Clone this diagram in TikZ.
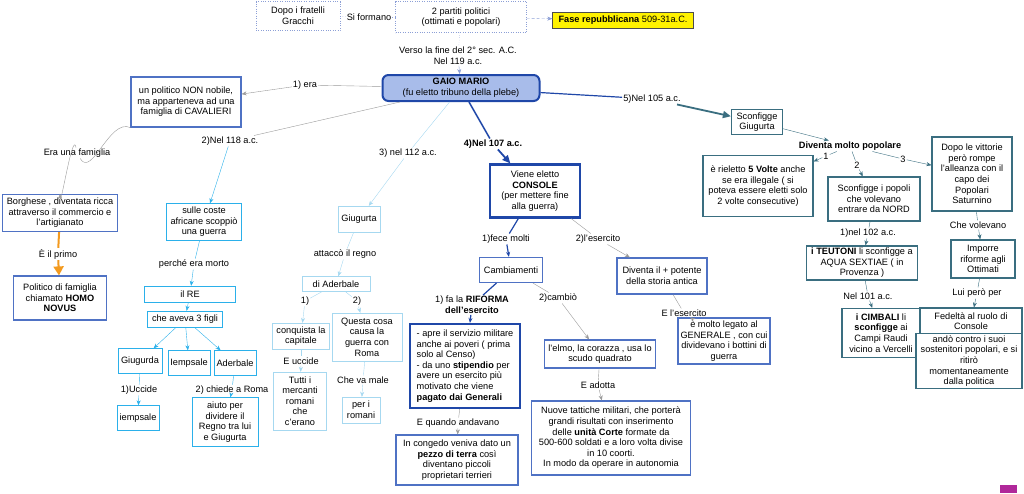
\documentclass[tikz,border=0pt]{standalone}
\usepackage{fontspec}
\setmainfont{Liberation Sans}
\usetikzlibrary{arrows.meta}
\definecolor{dotblue}{HTML}{8C9FD6}
\definecolor{gaiofill}{HTML}{A8BCEA}
\definecolor{darkblue}{HTML}{1F47A8}
\definecolor{midblue}{HTML}{4F72C4}
\definecolor{cyanb}{HTML}{2BB0EA}
\definecolor{paleb}{HTML}{A6D8F0}
\definecolor{tealb}{HTML}{3A6E80}
\definecolor{edgegrey}{HTML}{9A9A9A}
\definecolor{orangeb}{HTML}{F39A1E}
\definecolor{iconpink}{HTML}{B0289A}
\tikzset{
  box/.style={draw, fill=white, align=center, inner sep=2pt, font=\fontsize{9.2}{10.6}\selectfont},
  lbl/.style={align=center, inner sep=1pt, font=\fontsize{9.2}{10.6}\selectfont},
  tip/.style={-{Stealth[length=5pt,width=4pt]}},
  bigtip/.style={-{Triangle[length=8pt,width=7pt]}},
}
\begin{document}
\begin{tikzpicture}[x=1pt,y=-1pt]
        \useasboundingbox (0,0) rectangle (1024,493);
        \node[box, dotted, draw=dotblue, minimum width=84, minimum height=29] (gracchi) at (298,16) {Dopo i fratelli\\Gracchi};
        \node[box, dotted, draw=dotblue, minimum width=131, minimum height=31] (partiti) at (461,17) {2 partiti politici\\(ottimati e popolari)};
        \node[box, fill=yellow, draw=black!70, minimum width=141, minimum height=16, inner sep=1pt] (fase) at (623,20) {\textbf{Fase repubblicana} 509-31a.C.};
        \node[lbl] (siform) at (369,17) {Si formano};
        \node[lbl] (verso) at (458,56) {Verso la fine del 2° sec. A.C.\\Nel 119 a.c.};
        \node[box, rounded corners=6pt, line width=2pt, draw=darkblue, fill=gaiofill, minimum width=157, minimum height=26] (gaio) at (461,88) {\textbf{GAIO MARIO}\\(fu eletto tribuno della plebe)};
        \draw[dotblue, dotted] (gracchi) -- (siform);
        \draw[dotblue, dotted] (siform) -- (partiti);
        \draw[dotblue, densely dashed, tip] (partiti) -- (fase);
        \draw[dotblue, dotted] (partiti) -- (verso);
        \draw[dotblue, tip] (verso) -- (gaio);

        \node[box, draw=midblue, line width=1.2pt, minimum width=110, minimum height=50] (politico) at (186,102) {un politico NON nobile,\\ma apparteneva ad una\\famiglia di CAVALIERI};
        \node[lbl] (era) at (305,85) {1) era};
        \node[lbl] (famiglia) at (77,153) {Era una famiglia};
        \node[box, draw=midblue, line width=1.2pt, minimum width=115, minimum height=37] (borghese) at (60,213) {Borghese , diventata ricca\\attraverso il commercio e\\l'artigianato};
        \node[lbl] (primo) at (58,254) {È il primo};
        \node[box, draw=midblue, line width=1.2pt, minimum width=93, minimum height=44] (homo) at (60,298) {Politico di famiglia\\chiamato \textbf{HOMO}\\\textbf{NOVUS}};
        \draw[edgegrey] (gaio) -- (era);
        \draw[edgegrey, tip] (era) -- (politico);
        \draw[edgegrey] (politico.south west) to[out=155, in=300] (famiglia);
        \draw[edgegrey, tip] (famiglia) to[out=100, in=270] (borghese.north);
        \draw[orangeb, line width=2pt] (borghese) -- (primo);
        \draw[orangeb, line width=2pt, -{Triangle[length=9pt,width=10pt]}] (primo) -- (homo);

        \node[lbl] (n118) at (230,141) {2)Nel 118 a.c.};
        \node[box, draw=cyanb, minimum width=75, minimum height=37] (sulle) at (204,222) {sulle coste\\africane scoppiò\\una guerra};
        \node[lbl] (perche) at (194,264) {perché era morto};
        \node[box, draw=cyanb, minimum width=91, minimum height=16, inner sep=1pt] (re) at (190,294) {il RE};
        \node[box, draw=cyanb, minimum width=75, minimum height=16, inner sep=1pt] (figli) at (185,319) {che aveva 3 figli};
        \node[box, draw=cyanb, minimum width=44, minimum height=25] (giugurda) at (140,361) {Giugurda};
        \node[box, draw=cyanb, minimum width=42, minimum height=25] (iempsalea) at (189,363) {Iempsale};
        \node[box, draw=cyanb, minimum width=42, minimum height=25] (aderbale) at (235,363) {Aderbale};
        \node[lbl] (uccide) at (139,390) {1)Uccide};
        \node[box, draw=cyanb, minimum width=42, minimum height=25] (iempsaleb) at (138,418) {iempsale};
        \node[lbl] (chiede) at (232,390) {2) chiede a Roma};
        \node[box, draw=cyanb, minimum width=66, minimum height=49] (aiuto) at (225,422) {aiuto per\\dividere il\\Regno tra lui\\e Giugurta};
        \draw[edgegrey] (gaio) -- (n118);
        \draw[cyanb, tip] (n118) -- (sulle);
        \draw[cyanb] (sulle) -- (perche);
        \draw[cyanb, tip] (perche) -- (re);
        \draw[cyanb, tip] (re) -- (figli);
        \draw[cyanb, tip] (figli) -- (giugurda);
        \draw[cyanb, tip] (figli) -- (iempsalea);
        \draw[cyanb, tip] (figli) -- (aderbale);
        \draw[cyanb] (giugurda) -- (uccide);
        \draw[cyanb, tip] (uccide) -- (iempsaleb);
        \draw[cyanb] (aderbale) -- (chiede);
        \draw[cyanb, tip] (chiede) -- (aiuto);

        \node[lbl] (n112) at (408,153) {3) nel 112 a.c.};
        \node[box, draw=paleb, minimum width=42, minimum height=26] (giugurta) at (359,219) {Giugurta};
        \node[lbl] (attacco) at (345,254) {attaccò il regno};
        \node[box, draw=paleb, minimum width=68, minimum height=15, inner sep=1pt] (diaderbale) at (336,284) {di Aderbale};
        \node[lbl] (uno) at (305,301) {1)};
        \node[lbl] (due) at (357,301) {2)};
        \node[box, draw=paleb, minimum width=57, minimum height=26] (conquista) at (301,336) {conquista la\\capitale};
        \node[box, draw=paleb, minimum width=70, minimum height=48] (questa) at (367,337) {Questa cosa\\causa la\\guerra con\\Roma};
        \node[lbl] (euccide) at (301,361) {E uccide};
        \node[box, draw=paleb, minimum width=53, minimum height=58] (tutti) at (300,401) {Tutti i\\mercanti\\romani\\che\\c'erano};
        \node[lbl] (vamale) at (363,380) {Che va male};
        \node[box, draw=paleb, minimum width=38, minimum height=26] (perromani) at (361,410) {per i\\romani};
        \draw[paleb] (gaio) -- (n112);
        \draw[paleb, tip] (n112) -- (giugurta);
        \draw[paleb] (giugurta) -- (attacco);
        \draw[paleb, tip] (attacco) -- (diaderbale);
        \draw[paleb] (diaderbale) -- (uno);
        \draw[paleb, tip] (uno) -- (conquista);
        \draw[paleb] (diaderbale) -- (due);
        \draw[paleb, tip] (due) -- (questa);
        \draw[paleb] (conquista) -- (euccide);
        \draw[paleb, tip] (euccide) -- (tutti);
        \draw[paleb] (questa) -- (vamale);
        \draw[paleb, tip] (vamale) -- (perromani);

        \node[lbl, font=\fontsize{9.2}{10.6}\selectfont\bfseries] (n107) at (493,144) {4)Nel 107 a.c.};
        \node[box, draw=darkblue, line width=2.2pt, minimum width=90, minimum height=53] (console) at (535,191) {Viene eletto\\\textbf{CONSOLE}\\(per mettere fine\\alla guerra)};
        \node[lbl] (fece) at (506,239) {1)fece molti};
        \node[box, draw=midblue, line width=1.2pt, minimum width=63, minimum height=25] (cambiam) at (511,270) {Cambiamenti};
        \node[lbl] (riflbl) at (472,305) {1) fa la \textbf{RIFORMA}\\\textbf{dell'esercito}};
        \node[box, draw=darkblue, line width=2.2pt, minimum width=110, minimum height=84, align=left] (riforma) at (465,366) {- apre il servizio militare\\anche ai poveri ( prima\\solo al Censo)\\- da uno \textbf{stipendio} per\\avere un esercito più\\motivato che viene\\\textbf{pagato dai Generali}};
        \node[lbl] (quando) at (458,423) {E quando andavano};
        \node[box, draw=midblue, line width=1.2pt, minimum width=122, minimum height=50] (congedo) at (457,460) {In congedo veniva dato un\\\textbf{pezzo di terra} così\\diventano piccoli\\proprietari terrieri};
        \node[lbl] (cambio) at (558,298) {2)cambiò};
        \node[box, draw=midblue, line width=1.2pt, minimum width=111, minimum height=28] (elmo) at (600,354) {l'elmo, la corazza , usa lo\\scudo quadrato};
        \node[lbl] (adotta) at (598,385) {E adotta};
        \node[box, draw=midblue, line width=1.2pt, minimum width=159, minimum height=74] (nuove) at (611,438) {Nuove tattiche militari, che porterà\\grandi risultati con inserimento\\delle \textbf{unità Corte} formate da\\500-600 soldati e a loro volta divise\\in 10 coorti.\\In modo da operare in autonomia};
        \node[lbl] (esercito) at (598,239) {2)l'esercito};
        \node[box, draw=midblue, line width=1.2pt, minimum width=90, minimum height=36] (diventa) at (662,276) {Diventa il + potente\\della storia antica};
        \node[box, draw=midblue, line width=1.2pt, minimum width=92, minimum height=46] (legato) at (724,341) {è molto legato al\\GENERALE , con cui\\dividevano i bottini di\\guerra};
        \node[lbl] (lesercito) at (684,313) {E l'esercito};
        \draw[darkblue, line width=1.5pt] (gaio) -- (n107);
        \draw[darkblue, line width=1.8pt, bigtip] (n107) -- (console);
        \draw[darkblue, line width=1.2pt] (console) -- (fece);
        \draw[darkblue, line width=1.2pt, tip] (fece) -- (cambiam);
        \draw[darkblue, line width=1.2pt] (cambiam) -- (riflbl);
        \draw[darkblue, line width=1.2pt, tip] (riflbl) -- (riforma);
        \draw[edgegrey] (riforma) -- (quando);
        \draw[edgegrey, tip] (quando) -- (congedo);
        \draw[edgegrey] (cambiam) -- (cambio);
        \draw[edgegrey, tip] (cambio) -- (elmo);
        \draw[edgegrey] (elmo) -- (adotta);
        \draw[edgegrey, tip] (adotta) -- (nuove);
        \draw[edgegrey] (console) -- (esercito);
        \draw[edgegrey, tip] (esercito) -- (diventa);
        \draw[edgegrey] (diventa) -- (lesercito);
        \draw[edgegrey, tip] (lesercito) -- (legato);

        \node[lbl] (n105) at (652,99) {5)Nel 105 a.c.};
        \node[box, draw=tealb, line width=1.2pt, minimum width=51, minimum height=25] (sconfa) at (757,122) {Sconfigge\\Giugurta};
        \node[lbl, font=\fontsize{9.2}{10.6}\selectfont\bfseries] (popolare) at (850,146) {Diventa molto popolare};
        \node[lbl] (p1) at (826,156) {1};
        \node[lbl] (p2) at (857,165) {2};
        \node[lbl] (p3) at (903,159) {3};
        \node[box, draw=tealb, line width=1.2pt, minimum width=110, minimum height=61] (rieletto) at (758,186) {è rieletto \textbf{5 Volte} anche\\se era illegale ( si\\poteva essere eletti solo\\2 volte consecutive)};
        \node[box, draw=tealb, line width=1.2pt, minimum width=92, minimum height=44] (sconfb) at (874,199) {Sconfigge i popoli\\che volevano\\entrare da NORD};
        \node[box, draw=tealb, line width=1.2pt, minimum width=80, minimum height=74] (rompe) at (972,174) {Dopo le vittorie\\però rompe\\l'alleanza con il\\capo dei\\Popolari\\Saturnino};
        \node[lbl] (n102) at (868,233) {1)nel 102 a.c.};
        \node[box, draw=tealb, line width=1.2pt, minimum width=111, minimum height=34] (teutoni) at (862,263) {\textbf{i TEUTONI} li sconfigge a\\AQUA SEXTIAE ( in\\Provenza )};
        \node[lbl] (n101) at (868,296) {Nel 101 a.c.};
        \node[box, draw=tealb, line width=1.2pt, minimum width=78, minimum height=49] (cimbali) at (881,333) {\textbf{i CIMBALI} li\\\textbf{sconfigge} ai\\Campi Raudi\\vicino a Vercelli};
        \node[lbl] (volevano) at (978,225) {Che volevano};
        \node[box, draw=tealb, line width=1.2pt, minimum width=64, minimum height=38] (imporre) at (983,259) {Imporre\\riforme agli\\Ottimati};
        \node[lbl] (luipero) at (977,293) {Lui però per};
        \node[box, draw=tealb, line width=1.2pt, minimum width=102, minimum height=26] (fedelta) at (971,321) {Fedeltà al ruolo di\\Console};
        \node[box, draw=tealb, line width=1.2pt, minimum width=106, minimum height=55] (ando) at (969,361) {andò contro i suoi\\sostenitori popolari, e si\\ritirò\\momentaneamente\\dalla politica};
        \draw[darkblue, line width=1.2pt] (gaio) -- (n105);
        \draw[tealb, line width=1.8pt, bigtip] (n105) -- (sconfa);
        \draw[tealb, tip] (sconfa) -- (popolare);
        \draw[tealb] (popolare) -- (p1);
        \draw[tealb, tip] (p1) -- (rieletto);
        \draw[tealb] (popolare) -- (p2);
        \draw[tealb, tip] (p2) -- (sconfb);
        \draw[tealb] (popolare) -- (p3);
        \draw[tealb, tip] (p3) -- (rompe);
        \draw[tealb] (sconfb) -- (n102);
        \draw[tealb, tip] (n102) -- (teutoni);
        \draw[tealb] (teutoni) -- (n101);
        \draw[tealb, tip] (n101) -- (cimbali);
        \draw[tealb] (rompe) -- (volevano);
        \draw[tealb, tip] (volevano) -- (imporre);
        \draw[tealb] (imporre) -- (luipero);
        \draw[tealb, tip] (luipero) -- (fedelta);

        \fill[iconpink] (1000,485) rectangle (1017,493);
\end{tikzpicture}
\end{document}
